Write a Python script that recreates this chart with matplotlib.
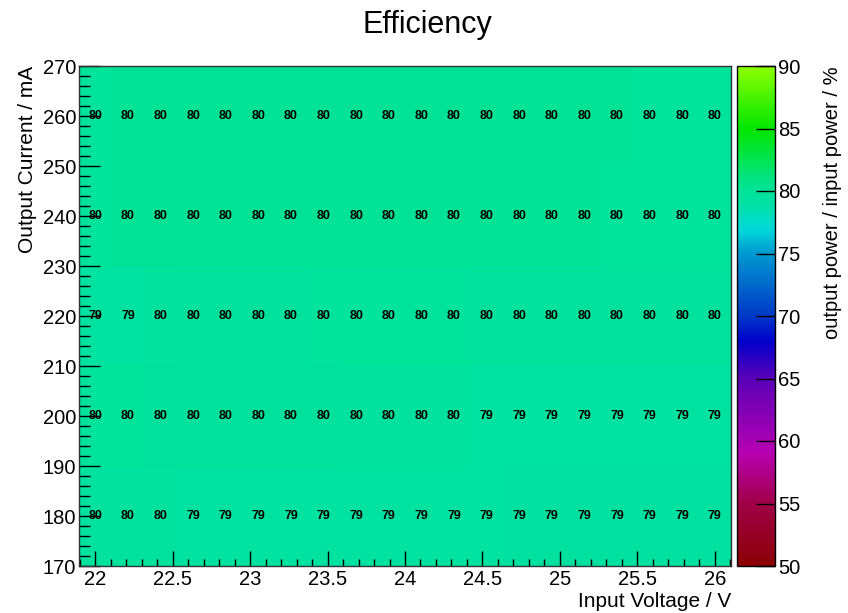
import numpy as np
import matplotlib.pyplot as plt
from matplotlib.colors import LinearSegmentedColormap, Normalize
from matplotlib.ticker import MultipleLocator

plt.rcParams['font.family'] = ['Liberation Sans', 'DejaVu Sans']

# data: efficiency (%) per input voltage / output current cell
voltages = np.linspace(22.0, 26.0, 20)
currents = [180, 200, 220, 240, 260]
eff_180 = [79.6, 79.5, 79.5, 79.4, 79.4, 79.4, 79.4, 79.4, 79.4, 79.4,
           79.4, 79.4, 79.4, 79.3, 79.3, 79.3, 79.3, 79.3, 79.3, 79.3]
eff_200 = [79.9, 79.9, 79.8, 79.8, 79.8, 79.7, 79.7, 79.7, 79.6, 79.6,
           79.6, 79.5, 79.4, 79.4, 79.4, 79.4, 79.4, 79.4, 79.4, 79.4]
eff_220 = [79.4, 79.4, 79.6, 79.7, 79.8, 79.8, 79.8, 79.9, 79.9, 79.9,
           79.9, 79.9, 79.8, 79.8, 79.8, 79.8, 79.8, 79.7, 79.7, 79.7]
eff_240 = [79.9, 80.0, 80.0, 80.1, 80.1, 80.1, 80.1, 80.1, 80.1, 80.0,
           80.0, 80.0, 80.0, 80.0, 80.0, 80.0, 79.9, 79.9, 79.9, 79.9]
eff_260 = [79.9, 80.0, 80.0, 80.1, 80.1, 80.1, 80.1, 80.1, 80.1, 80.1,
           80.0, 80.0, 80.0, 80.0, 80.0, 80.0, 80.0, 79.9, 79.9, 79.9]
eff = np.array([eff_180, eff_200, eff_220, eff_240, eff_260])

# ROOT-like palette between 50 and 90
zmin, zmax = 50, 90
stops = [
    (50, (0.55, 0.0, 0.02)),
    (55, (0.63, 0.0, 0.28)),
    (59, (0.72, 0.0, 0.70)),
    (65, (0.35, 0.0, 0.72)),
    (68, (0.0, 0.0, 0.80)),
    (70, (0.0, 0.22, 0.78)),
    (75, (0.0, 0.60, 0.82)),
    (77, (0.0, 0.85, 0.85)),
    (79, (0.0, 0.88, 0.64)),
    (80, (0.0, 0.89, 0.60)),
    (81, (0.0, 0.89, 0.52)),
    (85, (0.0, 0.90, 0.0)),
    (90, (0.55, 1.0, 0.0)),
]
cmap = LinearSegmentedColormap.from_list(
    'rootpal', [((v - zmin) / (zmax - zmin), c) for v, c in stops], N=255)
norm = Normalize(zmin, zmax)

# bin edges
dv = voltages[1] - voltages[0]
xedges = np.concatenate([voltages - dv / 2, [voltages[-1] + dv / 2]])
yedges = np.arange(170, 271, 20)

W, H = 848, 613
fig = plt.figure(figsize=(W / 100, H / 100), dpi=100)
ax = fig.add_axes([79 / W, 47 / H, 652 / W, 500 / H])
cax = fig.add_axes([737 / W, 47 / H, 38 / W, 500 / H])

ax.pcolormesh(xedges, yedges, eff, cmap=cmap, norm=norm)
for i, c in enumerate(currents):
    for j, v in enumerate(voltages):
        ax.text(v, c, "%.0f" % eff[i, j], ha='center', va='center',
                fontsize=9, fontweight='bold', color='black')

ax.set_xlim(xedges[0], xedges[-1])
ax.set_ylim(170, 270)
ax.xaxis.set_major_locator(MultipleLocator(0.5))
ax.xaxis.set_minor_locator(MultipleLocator(0.1))
ax.yaxis.set_major_locator(MultipleLocator(10))
ax.yaxis.set_minor_locator(MultipleLocator(2))
ax.set_xticks([22, 22.5, 23, 23.5, 24, 24.5, 25, 25.5, 26])
ax.set_xticklabels(['22', '22.5', '23', '23.5', '24', '24.5', '25', '25.5', '26'])
ax.tick_params(axis='both', which='both', direction='in', labelsize=14.5,
               top=False, right=False, width=1)
ax.tick_params(axis='x', which='major', length=11, pad=3)
ax.tick_params(axis='x', which='minor', length=5)
ax.tick_params(axis='y', which='major', length=15, pad=2)
ax.tick_params(axis='y', which='minor', length=8)
for s in ax.spines.values():
    s.set_linewidth(1)
    s.set_color('#333333')

cb = fig.colorbar(plt.cm.ScalarMappable(norm=norm, cmap=cmap), cax=cax)
cb.set_ticks(np.arange(50, 91, 5))
cb.outline.set_linewidth(1)
cax.tick_params(direction='in', length=14, width=1, labelsize=14.5, pad=2)
cax.minorticks_off()

fig.text(427 / W, 1 - 33 / H, "Efficiency", fontsize=22, ha='center', va='baseline')
fig.text(731 / W, 1 - 607 / H, "Input Voltage / V", fontsize=15, ha='right', va='baseline')
fig.text(28 / W, 1 - 66 / H, "Output Current / mA", fontsize=15, rotation=90,
         ha='center', va='top')
fig.text(832 / W, 1 - 66 / H, "output power / input power / %", fontsize=14.5,
         rotation=90, ha='center', va='top')

fig.savefig('out.png', dpi=100)
